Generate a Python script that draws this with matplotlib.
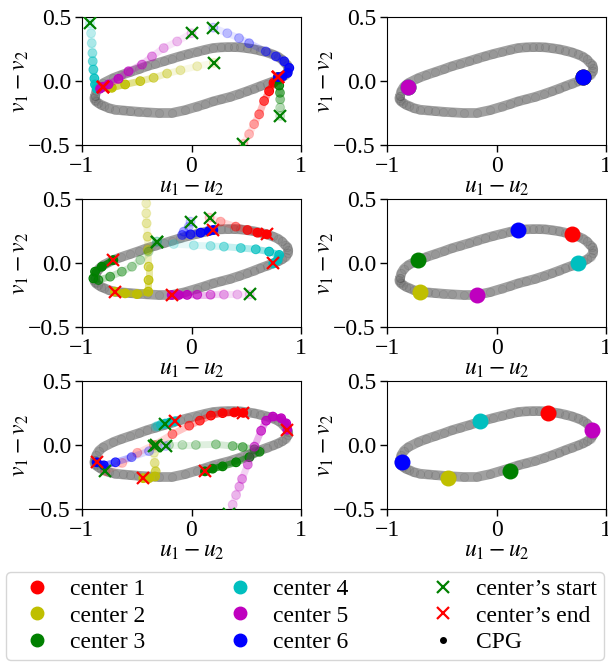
import numpy as np
import matplotlib
matplotlib.use('Agg')
import matplotlib.pyplot as plt
from matplotlib.collections import LineCollection
from matplotlib.lines import Line2D
from matplotlib.colors import to_rgb

plt.rcParams['font.family'] = ['Liberation Serif', 'DejaVu Serif']
plt.rcParams['mathtext.fontset'] = 'stix'
plt.rcParams['font.size'] = 17

# ---------------- data ----------------
center_labels = ['center 1', 'center 2', 'center 3', 'center 4', 'center 5', 'center 6']
center_colors = ['r', 'y', 'g', 'c', 'm', 'b']

# CPG limit cycle (u1-u2, v1-v2)
cpg_u = [-0.881, -0.87, -0.845, -0.805, -0.714, -0.64, -0.56, -0.48, -0.409, -0.33, -0.25,
         -0.18, -0.105, -0.03, 0.05, 0.125, 0.199, 0.27, 0.33, 0.39, 0.443, 0.51, 0.57,
         0.63, 0.687, 0.74, 0.79, 0.825, 0.854, 0.875, 0.884, 0.88, 0.86, 0.83, 0.79,
         0.747, 0.69, 0.63, 0.57, 0.504, 0.43, 0.35, 0.27, 0.199, 0.125, 0.05, -0.06,
         -0.181, -0.3, -0.409, -0.49, -0.56, -0.63, -0.699, -0.755, -0.80, -0.83,
         -0.851, -0.872, -0.885, -0.887, -0.881]
cpg_v = [-0.12, -0.08, -0.045, -0.016, 0.023, 0.047, 0.07, 0.093, 0.115, 0.135, 0.155,
         0.174, 0.193, 0.211, 0.228, 0.244, 0.258, 0.263, 0.265, 0.265, 0.263, 0.256, 0.248,
         0.237, 0.224, 0.208, 0.19, 0.168, 0.141, 0.125, 0.10, 0.075, 0.05, 0.03, 0.012,
         -0.003, -0.021, -0.04, -0.06, -0.081, -0.103, -0.125, -0.143, -0.159, -0.18, -0.2,
         -0.228, -0.25, -0.25, -0.245, -0.24, -0.235, -0.23, -0.224, -0.212, -0.195, -0.184,
         -0.172, -0.16, -0.145, -0.132, -0.12]

# Run 1 trajectories
run1_c1_u = [0.474, 0.526, 0.572, 0.618, 0.663, 0.709, 0.749, 0.79]
run1_c1_v = [-0.492, -0.415, -0.337, -0.26, -0.156, -0.079, -0.014, 0.03]
run1_c2_u = [0.205, 0.052, -0.101, -0.223, -0.346, -0.468, -0.606, -0.728, -0.81]
run1_c2_v = [0.141, 0.115, 0.084, 0.058, 0.025, -0.001, -0.027, -0.053, -0.045]
run1_c3_u = [0.81, 0.81, 0.81, 0.808, 0.801, 0.795, 0.79]
run1_c3_v = [-0.273, -0.208, -0.143, -0.092, -0.035, 0.012, 0.03]
run1_c4_u = [-0.927, -0.917, -0.911, -0.905, -0.902, -0.896, -0.887, -0.881, -0.866, -0.81]
run1_c4_v = [0.451, 0.373, 0.296, 0.218, 0.154, 0.089, 0.019, -0.027, -0.06, -0.045]
run1_c5_u = [0.0, -0.131, -0.254, -0.361, -0.452, -0.575, -0.667, -0.759, -0.835, -0.81]
run1_c5_v = [0.373, 0.309, 0.257, 0.192, 0.128, 0.076, 0.017, -0.027, -0.06, -0.045]
run1_c6_u = [0.199, 0.327, 0.434, 0.526, 0.679, 0.771, 0.847, 0.893, 0.878, 0.832, 0.79]
run1_c6_v = [0.417, 0.373, 0.335, 0.295, 0.231, 0.192, 0.154, 0.102, 0.063, 0.037, 0.03]

# Run 2 trajectories
run2_c1_u = [0.165, 0.266, 0.404, 0.511, 0.602, 0.687]
run2_c1_v = [0.354, 0.323, 0.284, 0.258, 0.237, 0.224]
run2_c2_u = [-0.413, -0.413, -0.413, -0.41, -0.401, -0.398, -0.392, -0.392, -0.395, -0.498, -0.606, -0.699]
run2_c2_v = [0.62, 0.466, 0.388, 0.31, 0.206, 0.102, -0.029, -0.133, -0.224, -0.243, -0.237, -0.224]
run2_c3_u = [-0.315, -0.392, -0.468, -0.544, -0.636, -0.743, -0.850, -0.896, -0.881, -0.820, -0.714]
run2_c3_v = [0.167, 0.089, 0.023, -0.029, -0.068, -0.107, -0.133, -0.120, -0.068, -0.029, 0.023]
run2_c4_u = [-0.315, -0.162, 0.021, 0.174, 0.296, 0.450, 0.587, 0.709, 0.801, 0.786, 0.747]
run2_c4_v = [0.167, 0.148, 0.138, 0.133, 0.128, 0.117, 0.107, 0.089, 0.063, 0.023, -0.003]
run2_c5_u = [0.532, 0.419, 0.296, 0.174, 0.052, -0.040, -0.116, -0.181]
run2_c5_v = [-0.245, -0.246, -0.247, -0.248, -0.248, -0.249, -0.25, -0.25]
run2_c6_u = [-0.009, -0.025, -0.071, -0.085, -0.009, 0.083, 0.159, 0.199]
run2_c6_v = [0.323, 0.284, 0.245, 0.219, 0.224, 0.237, 0.25, 0.258]

# Run 3 trajectories
run3_c1_u = [-0.786, -0.633, -0.495, -0.342, -0.174, -0.021, 0.076, 0.177, 0.284, 0.391, 0.473]
run3_c1_v = [-0.206, -0.140, -0.061, 0.0, 0.085, 0.151, 0.19, 0.23, 0.249, 0.254, 0.251]
run3_c2_u = [-0.342, -0.342, -0.336, -0.327, -0.333, -0.388, -0.44]
run3_c2_v = [-0.008, -0.061, -0.140, -0.206, -0.246, -0.259, -0.259]
run3_c3_u = [-0.321, -0.205, -0.083, 0.040, 0.223, 0.376, 0.468, 0.575, 0.621, 0.529, 0.407, 0.284, 0.193, 0.123]
run3_c3_v = [0.0, 0.0, 0.0, 0.0, 0.005, -0.008, -0.016, -0.034, -0.053, -0.095, -0.135, -0.167, -0.185, -0.206]
run3_c4_u = [-0.242, -0.327, -0.31, -0.28, -0.24, -0.2, -0.151]
run3_c4_v = [0.164, 0.143, 0.148, 0.158, 0.167, 0.175, 0.185]
run3_c5_u = [0.346, 0.376, 0.407, 0.437, 0.462, 0.514, 0.575, 0.636, 0.682, 0.743, 0.819, 0.865, 0.875]
run3_c5_v = [-0.537, -0.466, -0.391, -0.325, -0.265, -0.153, -0.013, 0.111, 0.19, 0.222, 0.209, 0.169, 0.119]
run3_c6_u = [-0.235, -0.388, -0.547, -0.694, -0.801, -0.866]
run3_c6_v = [-0.008, -0.048, -0.095, -0.135, -0.159, -0.135]

runs = [
    [(run1_c1_u, run1_c1_v), (run1_c2_u, run1_c2_v), (run1_c3_u, run1_c3_v),
     (run1_c4_u, run1_c4_v), (run1_c5_u, run1_c5_v), (run1_c6_u, run1_c6_v)],
    [(run2_c1_u, run2_c1_v), (run2_c2_u, run2_c2_v), (run2_c3_u, run2_c3_v),
     (run2_c4_u, run2_c4_v), (run2_c5_u, run2_c5_v), (run2_c6_u, run2_c6_v)],
    [(run3_c1_u, run3_c1_v), (run3_c2_u, run3_c2_v), (run3_c3_u, run3_c3_v),
     (run3_c4_u, run3_c4_v), (run3_c5_u, run3_c5_v), (run3_c6_u, run3_c6_v)],
]

# ---------------- figure ----------------
W, H = 608, 662
fig = plt.figure(figsize=(W / 100, H / 100), dpi=100)

col_left = [82, 387]
col_w = 219
row_top = [17, 199, 381]
row_h = 128


def style_axes(ax):
    ax.set_xlim(-1, 1)
    ax.set_ylim(-0.5, 0.5)
    ax.set_xticks([-1, 0, 1])
    ax.set_yticks([-0.5, 0.0, 0.5])
    ax.set_xticklabels(['\u22121', '0', '1'])
    ax.set_yticklabels(['\u22120.5', '0.0', '0.5'])
    ax.set_xlabel(r'$u_1-u_2$', labelpad=0)
    ax.set_ylabel(r'$v_1-v_2$', labelpad=-2)
    ax.tick_params(length=5, width=1, pad=3)


def draw_cpg(ax):
    ax.plot(cpg_u, cpg_v, color='0.5', lw=7.0, alpha=0.75, solid_joinstyle='round',
            solid_capstyle='round', zorder=1)
    ax.plot(cpg_u, cpg_v, ls='none', marker='o', ms=6, mfc=(0, 0, 0, 0.05),
            mec=(0, 0, 0, 0.08), mew=0.6, zorder=1.1)


for r in range(3):
    axL = fig.add_axes([col_left[0] / W, 1 - (row_top[r] + row_h) / H, col_w / W, row_h / H])
    axR = fig.add_axes([col_left[1] / W, 1 - (row_top[r] + row_h) / H, col_w / W, row_h / H])
    for ax in (axL, axR):
        style_axes(ax)
        draw_cpg(ax)

    starts = []
    ends = []
    for k, (u, v) in enumerate(runs[r]):
        u = np.asarray(u)
        v = np.asarray(v)
        n = len(u)
        rgb = to_rgb(center_colors[k])
        t = np.linspace(0, 1, n)
        a_pts = 0.10 + 0.90 * t ** 2
        segs = [[(u[i], v[i]), (u[i + 1], v[i + 1])] for i in range(n - 1)]
        a_seg = 0.08 + 0.85 * ((t[:-1] + t[1:]) / 2) ** 2.2
        lc = LineCollection(segs, colors=[(*rgb, a) for a in a_seg], linewidths=5.0,
                            capstyle='round', zorder=2 + k * 0.1)
        axL.add_collection(lc)
        axL.scatter(u, v, s=38, c=[(*rgb, a) for a in a_pts],
                    edgecolors=[(*rgb, min(1, 1.8 * a + 0.05)) for a in a_pts],
                    linewidths=0.9, zorder=2.05 + k * 0.1)
        starts.append((u[0], v[0]))
        ends.append((u[-1], v[-1]))
        axR.scatter([u[-1]], [v[-1]], s=110, color=center_colors[k], zorder=3 + k * 0.1)
    su, sv = zip(*starts)
    eu, ev = zip(*ends)
    axL.plot(su, sv, 'x', color='g', ms=9, mew=1.6, ls='none', zorder=5)
    axL.plot(eu, ev, 'x', color='r', ms=9, mew=1.6, ls='none', zorder=6)

# ---------------- legend ----------------
handles = []
for k in range(6):
    handles.append(Line2D([], [], ls='none', marker='o', ms=9, color=center_colors[k]))
handles.append(Line2D([], [], ls='none', marker='x', ms=9, mew=1.6, color='g'))
handles.append(Line2D([], [], ls='none', marker='x', ms=9, mew=1.6, color='r'))
handles.append(Line2D([], [], ls='none', marker='.', ms=8, color='k'))
labels = center_labels + ["center\u2019s start", "center\u2019s end", 'CPG']

fig.legend(handles, labels, ncol=3, loc='lower left',
           bbox_to_anchor=(6 / W, 2 / H, 598 / W, 97 / H), mode='expand',
           borderaxespad=0, labelspacing=0.2, handletextpad=0.4, handlelength=2.0,
           borderpad=0.3, fontsize=17, frameon=True)

fig.savefig('out.png', dpi=100)
